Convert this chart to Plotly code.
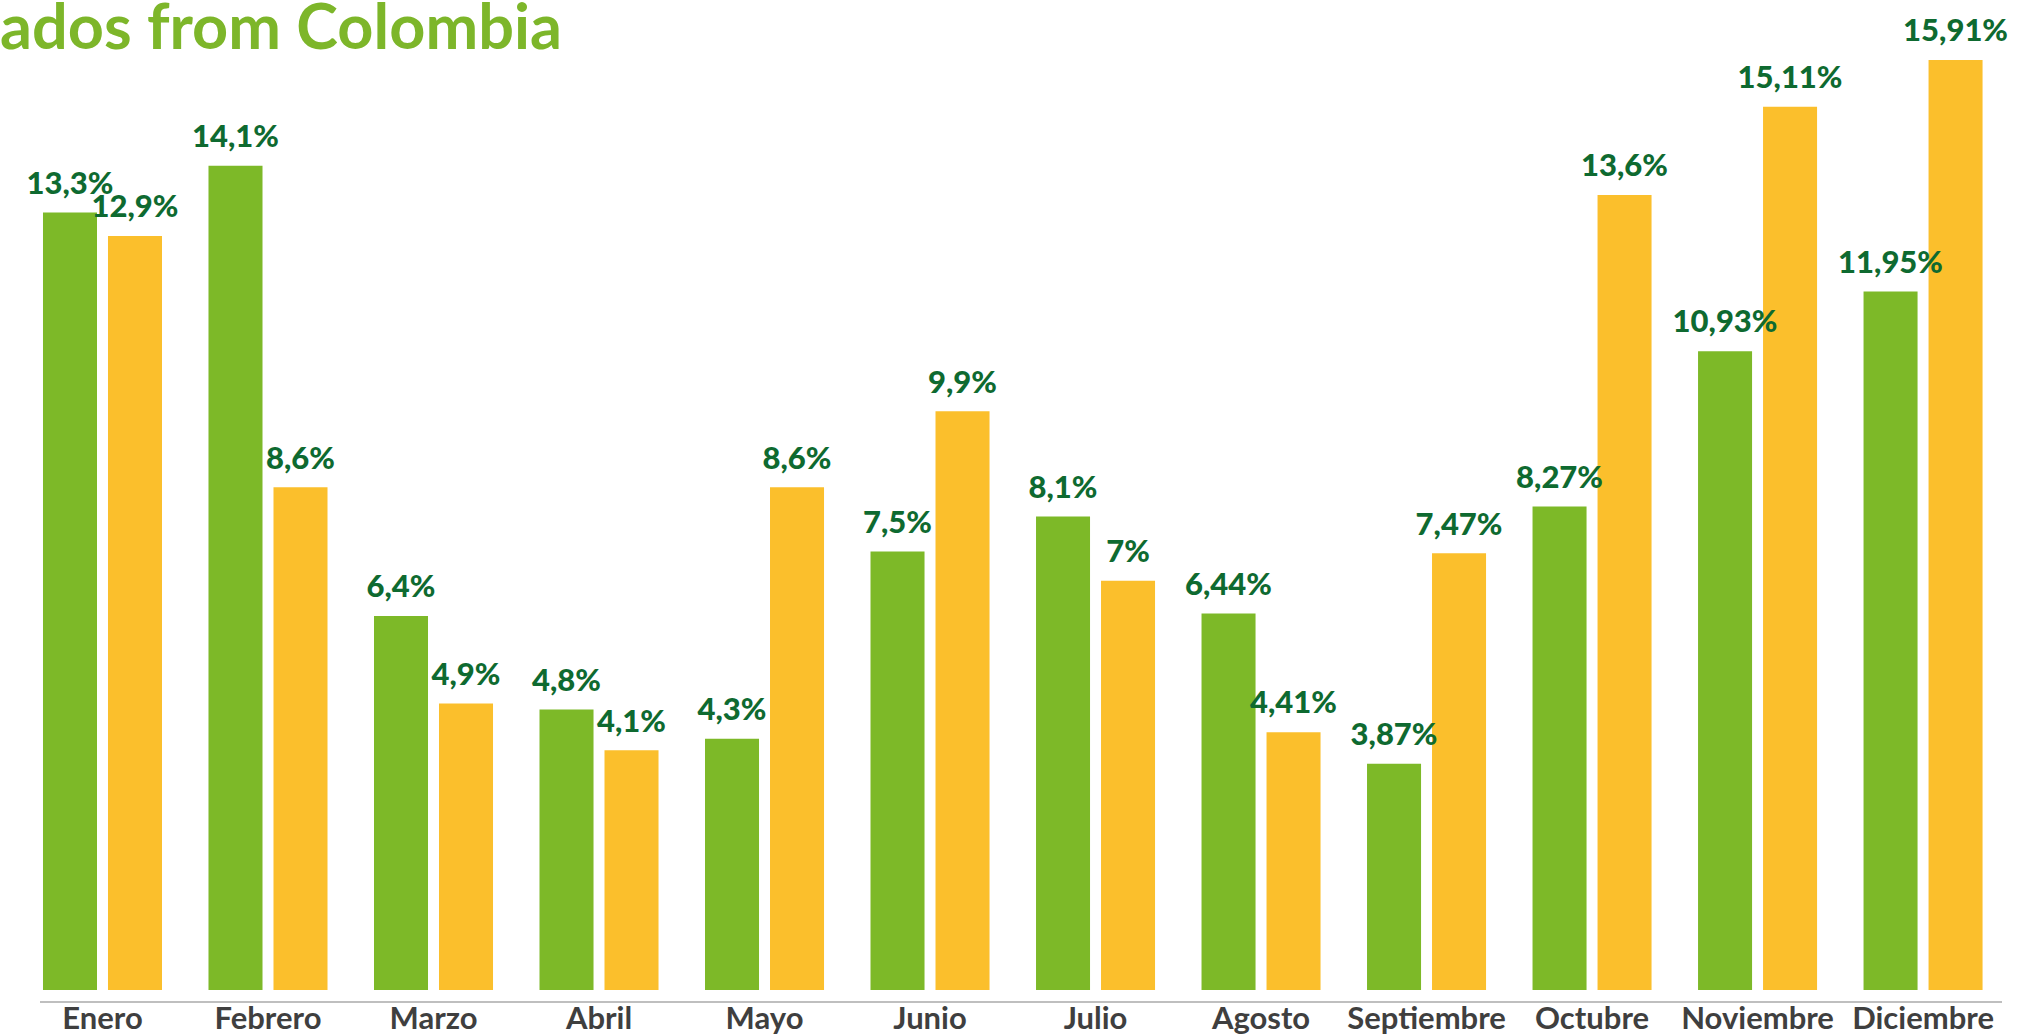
import plotly.graph_objects as go

months = ["Enero", "Febrero", "Marzo", "Abril", "Mayo", "Junio", "Julio",
          "Agosto", "Septiembre", "Octubre", "Noviembre", "Diciembre"]
serie_verde = [13.3, 14.1, 6.4, 4.8, 4.3, 7.5, 8.1, 6.44, 3.87, 8.27, 10.93, 11.95]
serie_amarilla = [12.9, 8.6, 4.9, 4.1, 8.6, 9.9, 7, 4.41, 7.47, 13.6, 15.11, 15.91]
title_text = "ados from Colombia"


def fmt(v):
    return f"{v:g}".replace(".", ",") + "%"


GREEN = "#7DB928"
YELLOW = "#FBBF2C"
LABEL = "#0E6A30"
FONT = "Lato"

fig = go.Figure()
for name, vals, col in [("verde", serie_verde, GREEN), ("amarilla", serie_amarilla, YELLOW)]:
    fig.add_trace(go.Bar(
        x=months, y=vals, name=name, marker=dict(color=col, line=dict(width=0)),
        offsetgroup=name, hoverinfo="x+y",
    ))
for name, vals in [("verde", serie_verde), ("amarilla", serie_amarilla)]:
    fig.add_trace(go.Scatter(
        x=months, y=vals, mode="markers+text", offsetgroup=name,
        text=[fmt(v) for v in vals], textposition="top center",
        textfont=dict(family=FONT, size=31, color=LABEL, weight=900),
        marker=dict(size=16, color="rgba(0,0,0,0)"),
        hoverinfo="skip", showlegend=False, cliponaxis=False,
    ))

fig.add_annotation(
    text=title_text, xref="paper", yref="paper", x=0, y=1,
    xanchor="left", yanchor="top", xshift=-42, yshift=35, showarrow=False,
    font=dict(family=FONT, size=63, color="#7DB62A", weight="bold"),
)

fig.update_layout(
    width=2018, height=1035,
    margin=dict(l=40, r=16, t=20, b=34),
    paper_bgcolor="white", plot_bgcolor="white",
    barmode="group", bargap=0.2145, bargroupgap=0.169,
    scattermode="group", scattergap=0.2145,
    showlegend=False,
    xaxis=dict(
        type="category", range=[-0.3776, 11.477], showline=True,
        linecolor="#BFBFBF", linewidth=2, showgrid=False, ticks="",
        tickfont=dict(family=FONT, size=31, color="#3F3F3F", weight="bold"),
        ticklabelstandoff=-11,
        automargin=False, fixedrange=True,
    ),
    yaxis=dict(visible=False, range=[-0.188, 16.595], fixedrange=True),
)

fig.write_html(
    "out.html",
    config={"displayModeBar": False},
    post_script="document.body.style.margin='0';document.body.style.overflow='hidden';",
)
